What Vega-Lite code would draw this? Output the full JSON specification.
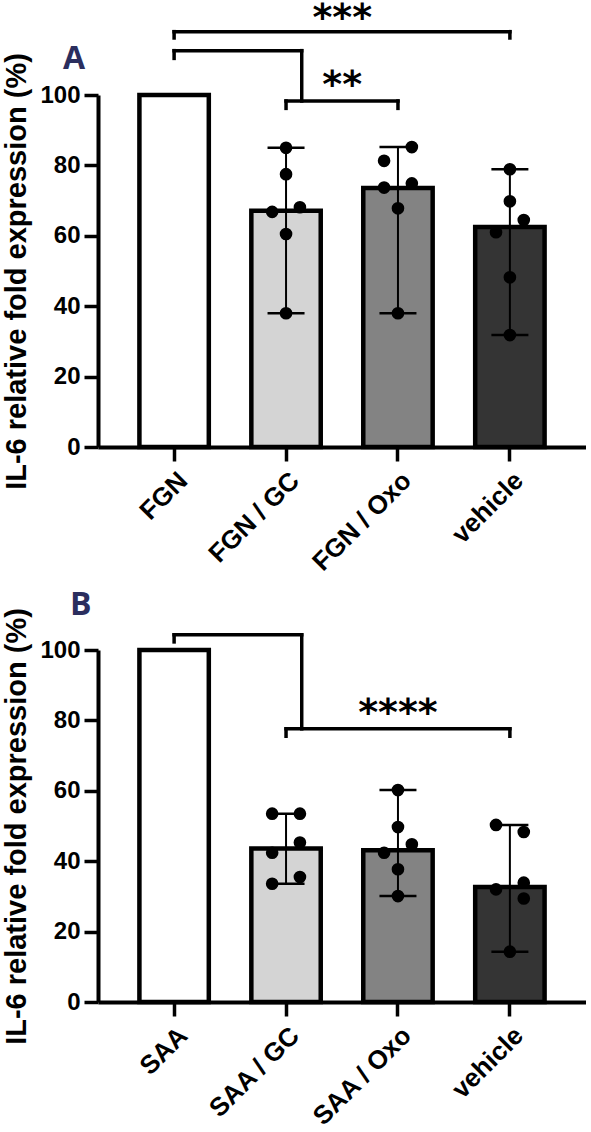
{
  "$schema": "https://vega.github.io/schema/vega-lite/v6.json",
  "padding": {"left": 2, "top": 0, "right": 0, "bottom": 0},
  "background": "white",
  "config": {
    "view": {"stroke": null},
    "axis": {
      "domainColor": "black", "domainWidth": 4, "tickColor": "black", "tickWidth": 3.5, "tickSize": 14,
      "labelColor": "black", "labelFont": "Liberation Sans", "labelFontSize": 24, "labelFontWeight": "bold",
      "titleColor": "black", "titleFont": "Liberation Sans", "titleFontWeight": "bold", "grid": false, "labelOverlap": false
    }
  },
  "resolve": {"scale": {"x": "independent", "y": "independent", "fill": "independent"}, "axis": {"x": "independent", "y": "independent"}},
  "spacing": 12,
  "datasets": {
    "barsA": [
      {"group": "FGN", "mean": 100},
      {"group": "FGN / GC", "mean": 67.1},
      {"group": "FGN / Oxo", "mean": 73.6},
      {"group": "vehicle", "mean": 62.5}
    ],
    "errA": [
      {"group": "FGN / GC", "min": 38.0, "max": 85.0},
      {"group": "FGN / Oxo", "min": 38.0, "max": 85.2},
      {"group": "vehicle", "min": 31.8, "max": 78.9}
    ],
    "ptsA": [
      {"group": "FGN / GC", "col": 0, "value": 85.0},
      {"group": "FGN / GC", "col": 0, "value": 77.5},
      {"group": "FGN / GC", "col": -1, "value": 66.8},
      {"group": "FGN / GC", "col": 1, "value": 68.1},
      {"group": "FGN / GC", "col": 0, "value": 60.5},
      {"group": "FGN / GC", "col": 0, "value": 38.0},
      {"group": "FGN / Oxo", "col": 1, "value": 85.2},
      {"group": "FGN / Oxo", "col": -1, "value": 81.3},
      {"group": "FGN / Oxo", "col": -1, "value": 73.7},
      {"group": "FGN / Oxo", "col": 1, "value": 74.9},
      {"group": "FGN / Oxo", "col": 0, "value": 67.8},
      {"group": "FGN / Oxo", "col": 0, "value": 38.0},
      {"group": "vehicle", "col": 0, "value": 78.9},
      {"group": "vehicle", "col": 0, "value": 69.8},
      {"group": "vehicle", "col": 1, "value": 64.5},
      {"group": "vehicle", "col": -1, "value": 61.0},
      {"group": "vehicle", "col": 0, "value": 48.2},
      {"group": "vehicle", "col": 0, "value": 31.8}
    ],
    "hA": [
      {"from": "FGN", "to": "vehicle", "y": 118.0},
      {"from": "FGN / GC", "to": "FGN / Oxo", "y": 98.3}
    ],
    "hcA": [{"from": "FGN", "to": "FGN / GC", "y": 112.6}],
    "vA": [
      {"at": "FGN", "y1": 118.0, "y2": 116.2},
      {"at": "vehicle", "y1": 118.0, "y2": 116.2},
      {"at": "FGN", "y1": 112.6, "y2": 110.4},
      {"at": "FGN / GC", "y1": 98.3, "y2": 96.2},
      {"at": "FGN / Oxo", "y1": 98.3, "y2": 96.2}
    ],
    "vcA": [{"at": "FGN / GC", "y1": 112.6, "y2": 98.3}],
    "starsA": [
      {"at": "FGN / GC", "label": "***", "y": 118.4},
      {"at": "FGN / GC", "label": "**", "y": 99.3}
    ],
    "barsB": [
      {"group": "SAA", "mean": 100},
      {"group": "SAA / GC", "mean": 43.6},
      {"group": "SAA / Oxo", "mean": 43.1},
      {"group": "vehicle", "mean": 32.7}
    ],
    "errB": [
      {"group": "SAA / GC", "min": 33.6, "max": 53.5},
      {"group": "SAA / Oxo", "min": 30.1, "max": 60.2},
      {"group": "vehicle", "min": 14.3, "max": 50.3}
    ],
    "ptsB": [
      {"group": "SAA / GC", "col": -1, "value": 53.5},
      {"group": "SAA / GC", "col": 1, "value": 53.5},
      {"group": "SAA / GC", "col": 1, "value": 45.3},
      {"group": "SAA / GC", "col": -1, "value": 42.4},
      {"group": "SAA / GC", "col": 1, "value": 35.5},
      {"group": "SAA / GC", "col": -1, "value": 33.6},
      {"group": "SAA / Oxo", "col": 0, "value": 60.2},
      {"group": "SAA / Oxo", "col": 0, "value": 49.7},
      {"group": "SAA / Oxo", "col": 1, "value": 44.8},
      {"group": "SAA / Oxo", "col": -1, "value": 42.4},
      {"group": "SAA / Oxo", "col": 0, "value": 37.7},
      {"group": "SAA / Oxo", "col": 0, "value": 30.1},
      {"group": "vehicle", "col": -1, "value": 50.3},
      {"group": "vehicle", "col": 1, "value": 48.3},
      {"group": "vehicle", "col": 1, "value": 33.9},
      {"group": "vehicle", "col": -1, "value": 32.0},
      {"group": "vehicle", "col": 1, "value": 29.4},
      {"group": "vehicle", "col": 0, "value": 14.3}
    ],
    "hB": [{"from": "SAA / GC", "to": "vehicle", "y": 77.6}],
    "hcB": [{"from": "SAA", "to": "SAA / GC", "y": 104.3}],
    "vB": [
      {"at": "SAA", "y1": 104.3, "y2": 102.3},
      {"at": "SAA / GC", "y1": 77.6, "y2": 75.5},
      {"at": "vehicle", "y1": 77.6, "y2": 75.5}
    ],
    "vcB": [{"at": "SAA / GC", "y1": 104.3, "y2": 77.6}],
    "starsB": [{"at": "SAA / Oxo", "label": "****", "y": 78.6}]
  },
  "vconcat": [
    {
      "width": 488, "height": 352,
      "title": {"text": "A", "anchor": "start", "frame": "group", "font": "Open Sans", "fontSize": 32, "fontWeight": "bold", "color": "#2b2e5e", "dx": -35, "offset": -76},
      "layer": [
        {
          "data": {"name": "barsA"},
          "mark": {"type": "bar", "stroke": "black", "strokeWidth": 4.5},
          "encoding": {
            "x": {"field": "group", "type": "nominal", "sort": null,
                  "scale": {"domain": ["FGN", "FGN / GC", "FGN / Oxo", "vehicle"], "paddingInner": 0.38, "paddingOuter": 0.37},
                  "axis": {"title": null, "labelAngle": -45, "labelPadding": 6, "labelFontSize": 26}},
            "y": {"field": "mean", "type": "quantitative", "scale": {"domain": [0, 100], "nice": false},
                  "axis": {"title": "IL-6 relative fold expression (%)", "values": [0, 20, 40, 60, 80, 100], "titleFontSize": 29, "titlePadding": 8, "labelPadding": 4}},
            "fill": {"field": "group", "type": "nominal", "scale": {"domain": ["FGN", "FGN / GC", "FGN / Oxo", "vehicle"], "range": ["#ffffff", "#d4d4d4", "#838383", "#343434"]}, "legend": null}
          }
        },
        {
          "data": {"name": "errA"},
          "mark": {"type": "rule", "color": "black", "strokeWidth": 2},
          "encoding": {"x": {"field": "group", "type": "nominal"}, "y": {"field": "min", "type": "quantitative"}, "y2": {"field": "max"}}
        },
        {
          "data": {"name": "errA"},
          "mark": {"type": "tick", "color": "black", "thickness": 2.5, "size": 37, "opacity": 1},
          "encoding": {"x": {"field": "group", "type": "nominal"}, "y": {"field": "min", "type": "quantitative"}}
        },
        {
          "data": {"name": "errA"},
          "mark": {"type": "tick", "color": "black", "thickness": 2.5, "size": 37, "opacity": 1},
          "encoding": {"x": {"field": "group", "type": "nominal"}, "y": {"field": "max", "type": "quantitative"}}
        },
        {
          "data": {"name": "ptsA"},
          "transform": [{"filter": "datum.col == 0"}],
          "mark": {"type": "circle", "color": "black", "opacity": 1, "size": 160},
          "encoding": {"x": {"field": "group", "type": "nominal", "bandPosition": 0.5}, "y": {"field": "value", "type": "quantitative"}}
        },
        {
          "data": {"name": "ptsA"},
          "transform": [{"filter": "datum.col == -1"}],
          "mark": {"type": "circle", "color": "black", "opacity": 1, "size": 160},
          "encoding": {"x": {"field": "group", "type": "nominal", "bandPosition": 0.3}, "y": {"field": "value", "type": "quantitative"}}
        },
        {
          "data": {"name": "ptsA"},
          "transform": [{"filter": "datum.col == 1"}],
          "mark": {"type": "circle", "color": "black", "opacity": 1, "size": 160},
          "encoding": {"x": {"field": "group", "type": "nominal", "bandPosition": 0.7}, "y": {"field": "value", "type": "quantitative"}}
        },
        {
          "data": {"name": "hA"},
          "mark": {"type": "rule", "color": "black", "strokeWidth": 3.5, "strokeCap": "square"},
          "encoding": {"x": {"field": "from", "type": "nominal"}, "x2": {"field": "to"}, "y": {"field": "y", "type": "quantitative"}}
        },
        {
          "data": {"name": "hcA"},
          "mark": {"type": "rule", "color": "black", "strokeWidth": 3.5, "strokeCap": "square"},
          "encoding": {"x": {"field": "to", "type": "nominal", "bandPosition": 0.726}, "x2": {"field": "from"}, "y": {"field": "y", "type": "quantitative"}}
        },
        {
          "data": {"name": "vA"},
          "mark": {"type": "rule", "color": "black", "strokeWidth": 3.5, "strokeCap": "square"},
          "encoding": {"x": {"field": "at", "type": "nominal"}, "y": {"field": "y1", "type": "quantitative"}, "y2": {"field": "y2"}}
        },
        {
          "data": {"name": "vcA"},
          "mark": {"type": "rule", "color": "black", "strokeWidth": 3.5, "strokeCap": "square"},
          "encoding": {"x": {"field": "at", "type": "nominal", "bandPosition": 0.726}, "y": {"field": "y1", "type": "quantitative"}, "y2": {"field": "y2"}}
        },
        {
          "data": {"name": "starsA"},
          "mark": {"type": "text", "font": "DejaVu Sans", "fontWeight": "bold", "fontSize": 38, "color": "black", "align": "center", "baseline": "alphabetic"},
          "encoding": {"x": {"field": "at", "type": "nominal", "bandPosition": 1.31}, "y": {"field": "y", "type": "quantitative"}, "text": {"field": "label"}}
        }
      ]
    },
    {
      "width": 488, "height": 352,
      "title": {"text": "B", "anchor": "start", "frame": "group", "font": "Open Sans", "fontSize": 32, "fontWeight": "bold", "color": "#2b2e5e", "dx": -28, "offset": -14},
      "layer": [
        {
          "data": {"name": "barsB"},
          "mark": {"type": "bar", "stroke": "black", "strokeWidth": 4.5},
          "encoding": {
            "x": {"field": "group", "type": "nominal", "sort": null,
                  "scale": {"domain": ["SAA", "SAA / GC", "SAA / Oxo", "vehicle"], "paddingInner": 0.38, "paddingOuter": 0.37},
                  "axis": {"title": null, "labelAngle": -45, "labelPadding": 6, "labelFontSize": 26}},
            "y": {"field": "mean", "type": "quantitative", "scale": {"domain": [0, 100], "nice": false},
                  "axis": {"title": "IL-6 relative fold expression (%)", "values": [0, 20, 40, 60, 80, 100], "titleFontSize": 29, "titlePadding": 8, "labelPadding": 4}},
            "fill": {"field": "group", "type": "nominal", "scale": {"domain": ["SAA", "SAA / GC", "SAA / Oxo", "vehicle"], "range": ["#ffffff", "#d4d4d4", "#838383", "#343434"]}, "legend": null}
          }
        },
        {
          "data": {"name": "errB"},
          "mark": {"type": "rule", "color": "black", "strokeWidth": 2},
          "encoding": {"x": {"field": "group", "type": "nominal"}, "y": {"field": "min", "type": "quantitative"}, "y2": {"field": "max"}}
        },
        {
          "data": {"name": "errB"},
          "mark": {"type": "tick", "color": "black", "thickness": 2.5, "size": 37, "opacity": 1},
          "encoding": {"x": {"field": "group", "type": "nominal"}, "y": {"field": "min", "type": "quantitative"}}
        },
        {
          "data": {"name": "errB"},
          "mark": {"type": "tick", "color": "black", "thickness": 2.5, "size": 37, "opacity": 1},
          "encoding": {"x": {"field": "group", "type": "nominal"}, "y": {"field": "max", "type": "quantitative"}}
        },
        {
          "data": {"name": "ptsB"},
          "transform": [{"filter": "datum.col == 0"}],
          "mark": {"type": "circle", "color": "black", "opacity": 1, "size": 160},
          "encoding": {"x": {"field": "group", "type": "nominal", "bandPosition": 0.5}, "y": {"field": "value", "type": "quantitative"}}
        },
        {
          "data": {"name": "ptsB"},
          "transform": [{"filter": "datum.col == -1"}],
          "mark": {"type": "circle", "color": "black", "opacity": 1, "size": 160},
          "encoding": {"x": {"field": "group", "type": "nominal", "bandPosition": 0.3}, "y": {"field": "value", "type": "quantitative"}}
        },
        {
          "data": {"name": "ptsB"},
          "transform": [{"filter": "datum.col == 1"}],
          "mark": {"type": "circle", "color": "black", "opacity": 1, "size": 160},
          "encoding": {"x": {"field": "group", "type": "nominal", "bandPosition": 0.7}, "y": {"field": "value", "type": "quantitative"}}
        },
        {
          "data": {"name": "hB"},
          "mark": {"type": "rule", "color": "black", "strokeWidth": 3.5, "strokeCap": "square"},
          "encoding": {"x": {"field": "from", "type": "nominal"}, "x2": {"field": "to"}, "y": {"field": "y", "type": "quantitative"}}
        },
        {
          "data": {"name": "hcB"},
          "mark": {"type": "rule", "color": "black", "strokeWidth": 3.5, "strokeCap": "square"},
          "encoding": {"x": {"field": "to", "type": "nominal", "bandPosition": 0.726}, "x2": {"field": "from"}, "y": {"field": "y", "type": "quantitative"}}
        },
        {
          "data": {"name": "vB"},
          "mark": {"type": "rule", "color": "black", "strokeWidth": 3.5, "strokeCap": "square"},
          "encoding": {"x": {"field": "at", "type": "nominal"}, "y": {"field": "y1", "type": "quantitative"}, "y2": {"field": "y2"}}
        },
        {
          "data": {"name": "vcB"},
          "mark": {"type": "rule", "color": "black", "strokeWidth": 3.5, "strokeCap": "square"},
          "encoding": {"x": {"field": "at", "type": "nominal", "bandPosition": 0.726}, "y": {"field": "y1", "type": "quantitative"}, "y2": {"field": "y2"}}
        },
        {
          "data": {"name": "starsB"},
          "mark": {"type": "text", "font": "DejaVu Sans", "fontWeight": "bold", "fontSize": 38, "color": "black", "align": "center", "baseline": "alphabetic"},
          "encoding": {"x": {"field": "at", "type": "nominal"}, "y": {"field": "y", "type": "quantitative"}, "text": {"field": "label"}}
        }
      ]
    }
  ]
}
